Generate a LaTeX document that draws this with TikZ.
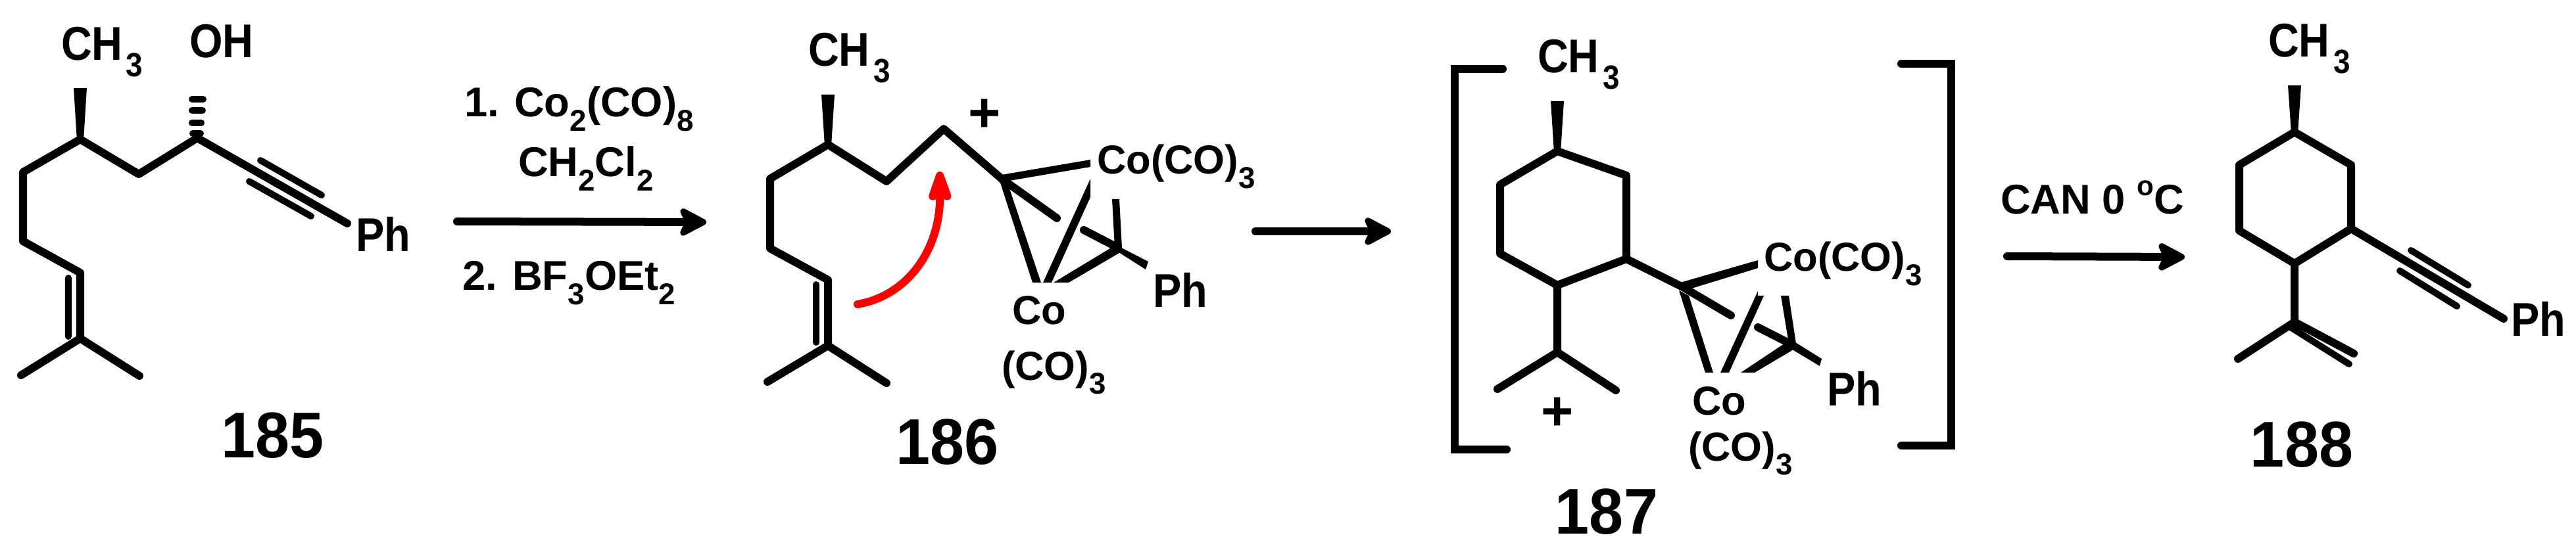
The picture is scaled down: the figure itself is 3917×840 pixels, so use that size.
\documentclass[tikz,border=0pt]{standalone}
\usepackage{fontspec}
\setmainfont{Liberation Sans}
\newfontfamily\labfont{Liberation Sans}[FakeStretch=0.90]
\newfontfamily\numfont{Liberation Sans}[FakeStretch=0.95]
\usetikzlibrary{arrows.meta}
\newcommand{\dnA}[1]{\kern1.5pt\raisebox{-7pt}{\fontsize{14.5}{14}\selectfont #1}}
\newcommand{\dnB}[1]{\raisebox{-6pt}{\fontsize{13}{13}\selectfont #1}}
\tikzset{
  txt/.style={inner sep=0pt,outer sep=0pt,anchor=base west},
  lab/.style={txt,font=\labfont\bfseries\fontsize{20.5}{20}\selectfont},
  rea/.style={txt,font=\bfseries\fontsize{18}{20}\selectfont},
  cob/.style={txt,font=\bfseries\fontsize{17.5}{20}\selectfont},
  num/.style={inner sep=0pt,outer sep=0pt,anchor=base,font=\numfont\bfseries\fontsize{28}{28}\selectfont},
  plus/.style={inner sep=0pt,outer sep=0pt,anchor=base,font=\bfseries\fontsize{24}{24}\selectfont},
  bond/.style={draw=black,line width=0.12cm,line cap=round,line join=round},
  hashbar/.style={draw=black,line width=0.10cm,line cap=round},
  thin bond/.style={draw=black,line width=0.10cm,line cap=round},
  rxn/.style={draw=black,line width=0.12cm,line cap=round,
    -{Stealth[length=0.5cm,width=0.52cm,inset=0.12cm,round]}},
  curly/.style={draw=red,line width=0.12cm,line cap=round,
    -{Stealth[length=0.6cm,width=0.40cm,inset=0.08cm,round]}},
  brk/.style={draw=black,line width=0.12cm,line cap=round,line join=miter},
}
\begin{document}
\begin{tikzpicture}[x=0.01cm,y=-0.01cm]
\useasboundingbox (0,0) rectangle (3917,840);
% ---------- 185
\coordinate (a1) at (122,212);\coordinate (a2) at (35,262);\coordinate (a3) at (35,367);
\coordinate (a4) at (122,415);\coordinate (a5) at (122,515);\coordinate (a6) at (32,571);
\coordinate (a7) at (212,572);\coordinate (a8) at (211,265);\coordinate (a9) at (300,210);
\coordinate (a10) at (528,340);
\coordinate (a11) at (104,423);\coordinate (a12) at (104,512);
\coordinate (a13) at (396,244);\coordinate (a14) at (489,297);
\coordinate (a15) at (379,276);\coordinate (a16) at (473,329);
\path[bond] (a6)--(a5)--(a4)--(a3)--(a2)--(a1)--(a8)--(a9)--(a10) (a5)--(a7);
\path[thin bond] (a11)--(a12) (a13)--(a14) (a15)--(a16);
\fill (112,134)--(132,134)--(127,214)--(117,214)--cycle;
\path[hashbar] (292,151)--(309,151) (292,168)--(308,168) (292,187)--(306,187) (293,203)--(305,203);
\node[lab] (t185a) at (93,92) {CH\dnA{3}};
\node[lab] (t185b) at (288,88) {OH};
\node[lab] (t185c) at (541,383) {Ph};
\node[num] (n185) at (415,696) {185};
% ---------- reagents 1
\node[rea] (r1) at (706,178) {1. Co\dnB{2}(CO)\dnB{8}};
\node[rea] (r2) at (788,269) {CH\dnB{2}Cl\dnB{2}};
\node[rea] (r3) at (703,442) {2. BF\dnB{3}OEt\dnB{2}};
\coordinate (p1s) at (695,337);\coordinate (p1e) at (1074,338);
\path[rxn] (p1s)--(p1e);
% ---------- 186
\coordinate (b1) at (1259,220);\coordinate (b2) at (1171,272);\coordinate (b3) at (1171,378);
\coordinate (b4) at (1259,426);\coordinate (b5) at (1259,526);\coordinate (b6) at (1167,581);
\coordinate (b7) at (1348,583);\coordinate (b8) at (1348,276);\coordinate (b9) at (1435,196);
\coordinate (b10) at (1523,272);
\coordinate (b11) at (1241,433);\coordinate (b12) at (1241,521);
\path[bond] (b6)--(b5)--(b4)--(b3)--(b2)--(b1)--(b8)--(b9)--(b10) (b5)--(b7);
\path[thin bond] (b11)--(b12);
\fill (1249,144)--(1269,144)--(1264,222)--(1254,222)--cycle;
\node[lab] (t186a) at (1229,101) {CH\dnA{3}};
\node[plus] (p186) at (1497,201) {+};
% cobalt cluster 186
\coordinate (b13) at (1607,332);\coordinate (b14) at (1648,350);\coordinate (b15) at (1700,377);
\path[bond] (b10)--(b13) (b14)--(b15);
\fill (1523,266)--(1658,243)--(1658,254)--(1535,275)--cycle;
\fill (1520,275)--(1535,287)--(1583,430)--(1570,430)--cycle;
\fill (1586,430)--(1599,430)--(1658,300)--(1658,272)--cycle;
\fill (1691,303)--(1702,303)--(1706,377)--(1695,377)--cycle;
\fill (1602,430)--(1625,430)--(1707,382)--(1693,375)--cycle;
\fill (1695,372)--(1707,378)--(1746,398)--(1742,410)--(1698,382)--cycle;
\node[cob] (t186b) at (1668,265) {Co(CO)\dnB{3}};
\node[lab] (t186c) at (1753,468) {Ph};
\node[cob] (t186d) at (1539,494) {Co};
\node[cob] (t186e) at (1523,578) {(CO)\dnB{3}};
\node[num] (n186) at (1441,706) {186};
\coordinate (c1s) at (1304,463);\coordinate (c1e) at (1429,261);
\path[curly] (c1s) .. controls (1380,450) and (1430,380) .. (c1e);
% ---------- arrow 2
\coordinate (p2s) at (1909,352);\coordinate (p2e) at (2115,352);
\path[rxn] (p2s)--(p2e);
% ---------- brackets
\coordinate (l1) at (2285,105);\coordinate (l2) at (2212,105);\coordinate (l3) at (2212,684);\coordinate (l4) at (2291,684);
\path[brk] (l1)--(l2)--(l3)--(l4);
\coordinate (q1) at (2891,97);\coordinate (q2) at (2967,97);\coordinate (q3) at (2967,678);\coordinate (q4) at (2891,678);
\path[brk] (q1)--(q2)--(q3)--(q4);
% ---------- 187
\coordinate (d1) at (2368,230);\coordinate (d2) at (2281,281);\coordinate (d3) at (2281,386);
\coordinate (d4) at (2368,434);\coordinate (d5) at (2473,394);\coordinate (d6) at (2473,267);
\coordinate (d7) at (2368,536);\coordinate (d8) at (2277,592);\coordinate (d9) at (2457,594);
\coordinate (d10) at (2559,437);
\path[bond] (d1)--(d2)--(d3)--(d4)--(d5)--(d6)--(d1) (d4)--(d7)--(d8) (d7)--(d9) (d5)--(d10);
\fill (2358,154)--(2378,154)--(2373,232)--(2363,232)--cycle;
\node[lab] (t187a) at (2338,111) {CH\dnA{3}};
\node[plus] (p187) at (2368,654) {+};
\coordinate (d11) at (2632,480);\coordinate (d12) at (2673,498);\coordinate (d13) at (2722,523);
\path[bond] (d10)--(d11) (d12)--(d13);
\fill (2555,430)--(2673,396)--(2673,408)--(2572,439)--cycle;
\fill (2553,442)--(2568,450)--(2605,567)--(2593,567)--cycle;
\fill (2616,567)--(2629,567)--(2682,450)--(2673,450)--(2673,443)--cycle;
\fill (2708,450)--(2720,450)--(2731,523)--(2720,523)--cycle;
\fill (2647,567)--(2668,567)--(2727,532)--(2713,523)--cycle;
\fill (2720,518)--(2730,521)--(2770,546)--(2767,557)--(2722,530)--cycle;
\node[cob] (t187b) at (2682,413) {Co(CO)\dnB{3}};
\node[lab] (t187c) at (2778,617) {Ph};
\node[cob] (t187d) at (2573,631) {Co};
\node[cob] (t187e) at (2567,701) {(CO)\dnB{3}};
\node[num] (n187) at (2443,812) {187};
% ---------- arrow 3
\node[rea] (r4) at (3042,326) {CAN 0 \raisebox{8pt}{\fontsize{12}{12}\selectfont o}C};
\coordinate (p3s) at (3052,390);\coordinate (p3e) at (3322,391);
\path[rxn] (p3s)--(p3e);
% ---------- 188
\coordinate (e1) at (3489,201);\coordinate (e2) at (3405,251);\coordinate (e3) at (3405,351);
\coordinate (e4) at (3489,401);\coordinate (e5) at (3575,348);\coordinate (e6) at (3575,251);
\coordinate (e7) at (3489,490);\coordinate (e8) at (3403,546);\coordinate (e9) at (3579,538);
\coordinate (e10) at (3483,498);\coordinate (e11) at (3572,554);\coordinate (e12) at (3807,485);
\coordinate (e13) at (3666,381);\coordinate (e14) at (3753,434);
\coordinate (e15) at (3649,412);\coordinate (e16) at (3736,466);
\path[bond] (e1)--(e2)--(e3)--(e4)--(e5)--(e6)--(e1) (e4)--(e7)--(e8) (e7)--(e9) (e5)--(e12);
\path[thin bond] (e10)--(e11) (e13)--(e14) (e15)--(e16);
\fill (3479,130)--(3499,130)--(3494,203)--(3484,203)--cycle;
\node[lab] (t188a) at (3449,87) {CH\dnA{3}};
\node[lab] (t188b) at (3818,512) {Ph};
\node[num] (n188) at (3500,710) {188};
\end{tikzpicture}
\end{document}
